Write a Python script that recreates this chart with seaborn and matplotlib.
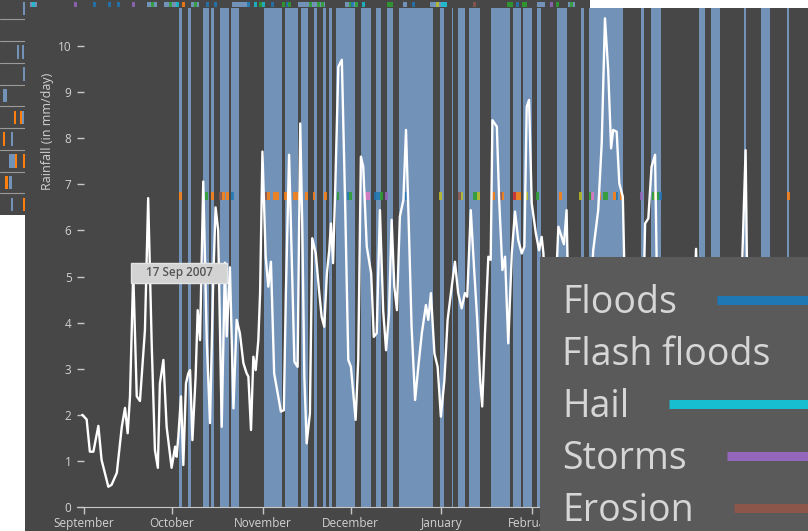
import numpy as np
import pandas as pd
import seaborn as sns
import matplotlib.pyplot as plt
import matplotlib.dates as mdates
from matplotlib.patches import Rectangle

sns.set_style('dark')
plt.rcParams['font.family'] = ['Open Sans', 'DejaVu Sans']

W, H = 808, 531
start = pd.Timestamp('2007-09-01')

# rainfall trace: day offset from 1 Sep 2007 and mm/day
rain_day = [-0.6, 0.9, 2.0, 3.2, 4.9, 6.0, 8.3, 9.4, 11.2, 12.9, 14.0, 14.9, 15.7, 16.8, 18.0,
            19.1, 20.8, 21.9, 23.1, 24.2, 25.2, 25.9, 27.1, 28.2, 29.9, 31.1, 31.6, 32.2, 33.1,
            33.9, 34.8, 35.6, 36.2, 37.0, 38.1, 38.8, 39.6, 40.7, 41.9, 43.0, 44.1, 44.9, 45.8,
            47.0, 48.1, 48.7, 49.8, 51.0, 52.1, 53.2, 54.4, 55.5, 56.1, 57.0, 57.8, 58.6, 59.5,
            60.1, 60.9, 62.0, 62.9, 63.8, 64.9, 66.1, 67.2, 68.2, 68.9, 70.0, 70.9, 71.8, 72.9,
            73.8, 74.5, 75.2, 76.0, 77.1, 77.9, 79.1, 80.2, 81.1, 82.0, 82.9, 83.7, 84.3, 85.0,
            85.7, 86.8, 88.0, 89.1, 90.2, 91.1, 91.9, 92.7, 93.6, 94.5, 95.3, 96.5, 98.0, 98.9,
            99.9, 101.0, 102.1, 103.1, 104.1, 105.0, 105.9, 106.8, 107.8, 109.0, 109.9, 110.7,
            111.8, 113.0, 114.1, 115.3, 116.7, 117.5, 118.4, 119.6, 120.7, 121.8, 123.0, 124.1,
            125.5, 126.6, 127.7, 128.9, 130.0, 130.8, 132.0, 133.1, 134.2, 135.2, 135.9, 136.9,
            138.0, 138.8, 139.4, 140.9, 141.7, 142.8, 143.7, 144.8, 146.0, 147.1, 148.2, 149.4,
            150.3, 151.1, 151.9, 152.8, 154.2, 155.3, 156.2, 156.8, 157.8, 159.2, 160.4, 161.9,
            163.0, 163.8, 164.7, 165.6, 167.0, 168.5, 170.0, 171.5, 172.6, 173.8, 175.5, 176.7,
            177.8, 178.9, 179.9, 180.6, 181.8, 182.7, 183.9, 185.0, 186.5, 188.0, 189.5, 190.8,
            191.5, 192.6, 193.7, 194.9, 196.0, 197.5, 199.0, 201.0, 203.0, 205.0, 207.0, 208.3,
            208.9, 209.6, 211.0, 213.0, 215.0, 217.0, 219.0, 221.0, 223.0, 224.4, 225.2, 225.8,
            226.5, 228.0, 230.0, 232.0, 234.0, 236.0, 238.0, 240.0, 242.0, 244.0, 246.0, 248.0]
rain_mm = [2.0, 1.9, 1.2, 1.2, 1.76, 1.02, 0.44, 0.48, 0.74, 1.74, 2.15, 1.6, 2.4, 5.1, 2.4,
           2.3, 3.84, 6.7, 3.55, 1.24, 0.85, 2.68, 3.19, 1.74, 0.85, 1.31, 1.09, 1.53, 2.4,
           0.91, 2.68, 2.9, 2.97, 1.45, 2.83, 4.27, 3.62, 7.06, 3.62, 1.82, 4.92, 6.5, 6.0,
           1.74, 5.3, 3.7, 5.2, 2.14, 4.06, 3.77, 3.12, 2.9, 2.83, 1.67, 3.26, 2.97, 3.62,
           4.64, 7.71, 5.43, 4.78, 5.32, 2.9, 2.47, 2.07, 2.1, 4.64, 7.64, 5.36, 3.15, 3.04,
           8.32, 6.08, 2.83, 1.38, 2.03, 5.83, 5.5, 4.71, 4.13, 3.91, 5.07, 5.57, 6.15, 5.29,
           6.8, 9.55, 9.7, 6.66, 3.19, 3.04, 2.47, 1.89, 3.19, 7.6, 7.38, 5.65, 5.07, 3.69,
           3.77, 6.44, 4.27, 3.4, 4.2, 6.23, 4.78, 4.27, 6.3, 6.66, 8.18, 6.44,
           3.91, 2.32, 3.04, 3.77, 4.38, 4.06, 4.64, 3.33, 3.04, 1.96, 2.75, 4.06,
           4.78, 5.32, 4.64, 4.31, 4.64, 4.56, 6.44, 5.21, 4.06, 2.75, 2.18, 3.84,
           5.43, 5.36, 8.39, 8.25, 6.66, 5.14, 5.43, 3.55, 5.5, 6.41, 5.79, 5.5,
           5.65, 8.68, 8.83, 6.59, 5.94, 5.57, 5.86, 5.5, 4.2, 3.0, 3.8, 6.08,
           5.86, 5.7, 6.44, 3.5, 2.5, 3.0, 2.2, 3.0, 4.2, 5.57, 6.44, 7.9,
           10.6, 9.48, 7.78, 8.18, 8.14, 7.02, 6.73, 3.5, 2.5, 1.8, 3.0, 4.0,
           6.15, 6.26, 7.38, 7.64, 3.0, 2.0, 1.5, 2.5, 1.8, 2.6, 3.0, 4.5,
           5.6, 3.5, 2.0, 1.6, 2.8, 2.2, 1.5, 2.5, 3.2, 4.8, 6.5, 7.74,
           4.0, 2.5, 1.8, 2.6, 3.0, 2.0, 1.4, 2.2, 3.0, 2.4, 1.8, 2.5]

# shaded periods with reported events (day offsets)
event_start = [32.5, 35.5, 40.5, 43.5, 46.5, 50.0, 61.5, 68.5, 74.0, 78.5, 81.5, 83.5, 86.0,
               94.5, 99.5, 103.5, 104.5, 107.5, 121.5, 125.5, 127.5, 131.5, 139.0, 146.5,
               150.0, 154.5, 161.5, 169.5, 172.5, 190.0, 193.5, 210.0, 214.0, 225.2, 231.0, 240.0]
event_end = [33.5, 36.5, 42.5, 44.5, 49.5, 53.0, 67.5, 73.0, 76.5, 79.5, 82.5, 84.5, 92.5,
             98.0, 101.5, 104.5, 105.5, 119.0, 123.0, 126.0, 130.0, 135.0, 145.5, 149.0,
             153.0, 156.0, 165.0, 170.5, 184.0, 191.0, 197.0, 212.0, 217.0, 225.8, 234.0, 240.7]

# single reports on the marker row (day offset, category index in tab10)
report_day = [32.9, 41.8, 43.9, 46.5, 47.5, 49.0, 50.7, 62, 63, 65, 66, 68.9, 72, 73, 75.8,
              78.5, 82.3, 86.7, 90.1, 91.1, 96, 97, 99.5, 100.5, 101.4, 103.4, 109.9, 121.8,
              128, 129, 133.1, 134, 134.8, 139.9, 142, 143, 146.8, 147.8, 148.8, 151.2, 154.9,
              162.5, 169.3, 173, 173.7, 175.8, 177.5, 178.5, 180.9, 181.9, 183.6, 190.4, 194.2,
              195, 195.9, 196.6, 240.3]
report_kind = [1, 2, 1, 5, 1, 1, 0, 5, 1, 1, 1, 1, 1, 1, 1,
               1, 1, 2, 0, 2, 6, 6, 0, 0, 2, 4, 0, 8,
               5, 8, 2, 2, 8, 1, 5, 1, 3, 1, 1, 8, 2,
               1, 8, 2, 6, 1, 2, 2, 1, 0, 1, 4, 2,
               8, 2, 0, 1]

legend_names = ['Floods', 'Flash floods', 'Hail', 'Storms', 'Erosion']
legend_kind = [0, 1, 9, 4, 5]

# month ticks shown on the axis
month_ticks = ['2007-09-01', '2007-10-01', '2007-11-01', '2007-12-01', '2008-01-01',
               '2008-02-01']

# overview strip above the chart
overview_span_start = [5, 122, 139, 166, 207, 273, 320, 378, 405, 512, 543]
overview_span_end = [12, 132, 152, 174, 225, 300, 333, 382, 422, 520, 550]
overview_pos = [8, 50, 69, 84, 93, 108, 127, 145, 152, 158, 170, 182, 190, 223, 230, 235,
                238, 247, 258, 262, 264, 285, 293, 297, 325, 327, 331, 338, 363, 366, 388,
                412, 417, 420, 449, 483, 486, 492, 498, 500, 526, 532, 546]
overview_kind = [9, 4, 0, 0, 0, 4, 2, 2, 9, 1, 2, 0, 0, 0, 9, 2,
                 9, 0, 2, 0, 2, 2, 2, 2, 2, 0, 2, 9, 2, 2, 0,
                 8, 9, 9, 5, 2, 2, 0, 2, 2, 4, 2, 2]

# side panel rows (row, start, width, kind: 0 band / 1 orange)
side_row = [0, 2, 2, 3, 4, 5, 5, 5, 6, 6, 7, 7, 7, 8, 8, 9, 9]
side_x = [23, 17, 22, 23, 3, 14, 20, 22, 3, 11, 9, 15, 23, 5, 9, 11, 23]
side_w = [2, 2, 2, 2, 4, 2, 2, 2, 1.5, 2, 6, 2, 2, 3, 3, 2, 1.5]
side_kind = [0, 0, 0, 0, 0, 1, 1, 0, 1, 0, 0, 1, 1, 1, 0, 0, 1]

pal = sns.color_palette('tab10')
BG = '#474747'
BAND = '#7392b7'
TXT = '#d2d2d2'


def px_box(x0, y0, x1, y1):
    return [x0 / W, 1 - y1 / H, (x1 - x0) / W, (y1 - y0) / H]


def clean(a):
    a.set_xticks([])
    a.set_yticks([])
    for s in a.spines.values():
        s.set_visible(False)


fig = plt.figure(figsize=(W / 100, H / 100), dpi=100, facecolor='white')

# backdrop panels
bg = fig.add_axes([0, 0, 1, 1], zorder=-2)
bg.set_xlim(0, W)
bg.set_ylim(H, 0)
bg.set_facecolor('white')
clean(bg)
bg.add_patch(Rectangle((25, 8), W - 25, H - 8, color=BG, lw=0))
bg.add_patch(Rectangle((25, 0), 565, 8, color=BG, lw=0))
bg.add_patch(Rectangle((0, 0), 25, 215, color=BG, lw=0))

# side panel (small multiples behind)
side = fig.add_axes(px_box(0, -2.4, 25, 215), zorder=-1)
side.set_facecolor('none')
clean(side)
side.set_xlim(0, 25)
side.set_ylim(10, 0)
for k in range(1, 10):
    side.axhline(k, color='#9a9a9a', lw=0.8)
side.bar(side_x, [0.62] * len(side_x), bottom=[r + 0.2 for r in side_row], width=side_w,
         align='edge', color=[BAND if k == 0 else pal[1] for k in side_kind], lw=0)

# overview strip
strip = fig.add_axes(px_box(25, 0, 590, 8), zorder=-1)
strip.set_facecolor('none')
clean(strip)
strip.set_xlim(0, 565)
strip.set_ylim(8, 0)
strip.bar(overview_span_start, 5, bottom=2,
          width=np.array(overview_span_end) - np.array(overview_span_start),
          align='edge', color=BAND, lw=0)
strip.bar(overview_pos, 5, bottom=2, width=3, color=[pal[k] for k in overview_kind],
          lw=0, alpha=0.85)

# main chart
ax = fig.add_axes(px_box(77, 8, 808, 507), zorder=1)
ax.set_facecolor(BG)
for s0, s1 in zip(event_start, event_end):
    ax.axvspan(start + pd.Timedelta(days=s0), start + pd.Timedelta(days=s1),
               color=BAND, lw=0, zorder=1)

ax.bar([start + pd.Timedelta(days=d) for d in report_day], 0.16, bottom=6.67, width=1.0,
       color=[pal[k] for k in report_kind], alpha=0.85, lw=0, zorder=2)

rain = pd.DataFrame({'date': start + pd.to_timedelta(rain_day, unit='D'), 'mm': rain_mm})
sns.lineplot(data=rain, x='date', y='mm', ax=ax, color='white', lw=1.7,
             estimator=None, zorder=3)

ax.set_xlim(start + pd.Timedelta(days=-2.39), start + pd.Timedelta(days=247.1))
ax.set_ylim(0, 499 / 46.1)
ax.set_yticks(range(0, 11))
ax.set_xticks(pd.to_datetime(month_ticks))
ax.xaxis.set_major_formatter(mdates.DateFormatter('%B'))
ax.tick_params(axis='x', direction='out', length=5, width=1, colors='#c8c8c8',
               labelcolor=TXT, labelsize=8.5, pad=2)
ax.tick_params(axis='y', direction='in', length=5, width=1, colors='#c8c8c8',
               labelcolor=TXT, labelsize=8.5, pad=4)
ax.tick_params(left=True, bottom=True)
ax.set_xlabel('')
ax.set_ylabel('')
for name, s in ax.spines.items():
    s.set_visible(name == 'bottom')
ax.spines['bottom'].set_color('#c8c8c8')
ax.grid(False)

fig.text(48 / W, 1 - 131 / H, 'Rainfall (in mm/day)', rotation=90, ha='center',
         va='center', fontsize=9, color=TXT)

# hover tooltip
fig.add_artist(Rectangle((131 / W, 1 - 282.5 / H), 96 / W, 19.5 / H,
                         transform=fig.transFigure, fc='#d3d3d3', ec='#e4e4e4',
                         lw=1, zorder=10))
fig.text(179 / W, 1 - 272.5 / H, '17 Sep 2007', ha='center', va='center',
         fontsize=8.5, color='#555555', weight='semibold', zorder=11)

# legend box
lax = fig.add_axes(px_box(540, 257, 808, 531), zorder=5)
lax.set_facecolor('#5a5a5a')
clean(lax)
lax.set_xlim(540, 808)
lax.set_ylim(531, 257)
texts = []
for i, name in enumerate(legend_names):
    t = lax.text(562, 313 + 52.1 * i, name, fontsize=27, color='#d6d6d6',
                 va='baseline', ha='left')
    texts.append(t)
fig.canvas.draw()
inv = lax.transData.inverted()
for i, t in enumerate(texts):
    bb = t.get_window_extent()
    x_end = inv.transform((bb.x1, bb.y0))[0]
    yl = 313 + 52.1 * i - 13.5
    lax.plot([x_end + 40, 840], [yl, yl], color=pal[legend_kind[i]], lw=6.5,
             solid_capstyle='butt')

fig.savefig('out.png', dpi=100)
